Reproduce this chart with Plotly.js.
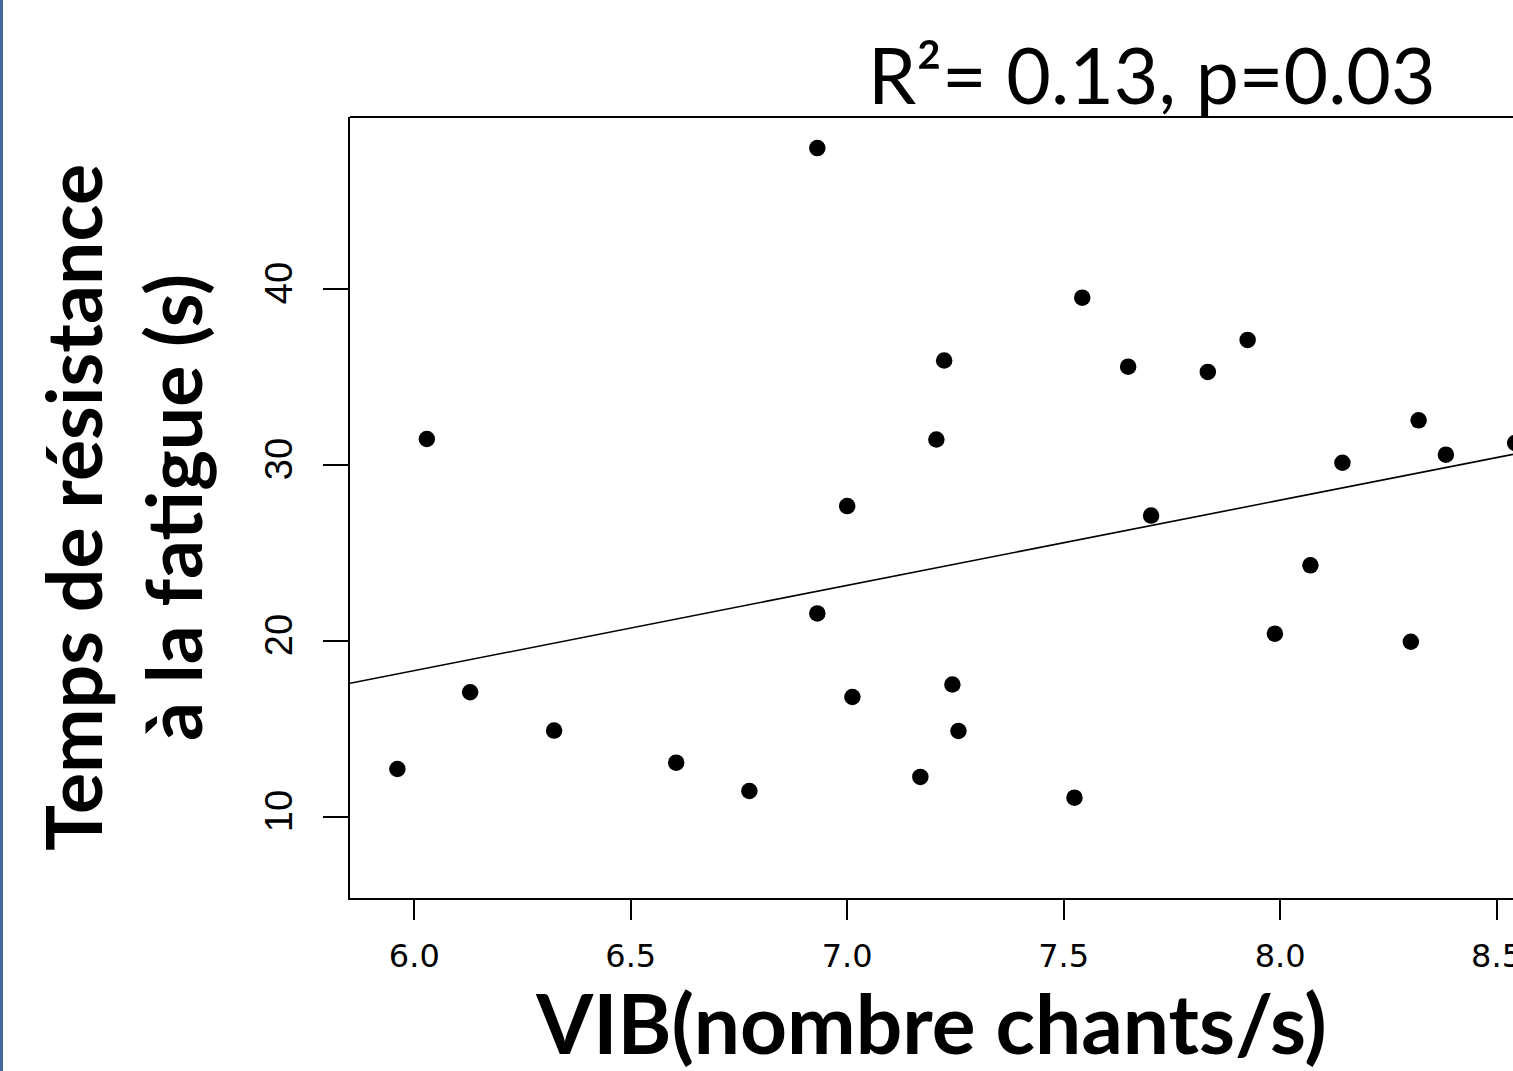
<!DOCTYPE html>
<html>
<head>
<meta charset="utf-8">
<script src="https://cdn.plot.ly/plotly-3.0.1.min.js"></script>
<style>
html,body{margin:0;padding:0;background:#ffffff;overflow:hidden;}
#chart{width:1513px;height:1071px;}
</style>
</head>
<body>
<div id="chart"></div>
<script>
// ---- data ----
const vib = [5.961, 6.029, 6.129, 6.323, 6.605, 6.774, 6.931, 6.931, 7.000, 7.012,
             7.169, 7.206, 7.224, 7.243, 7.257, 7.525, 7.543, 7.649, 7.702, 7.833,
             7.925, 7.988, 8.070, 8.144, 8.302, 8.320, 8.383, 8.543];
const fatigue = [12.71, 31.46, 17.07, 14.89, 13.07, 11.46, 47.99, 21.55, 27.65, 16.80,
                 12.26, 31.43, 35.92, 17.51, 14.87, 11.08, 39.49, 35.57, 27.11, 35.27,
                 37.09, 20.40, 24.28, 30.11, 19.94, 32.52, 30.57, 31.23];
const xTickVals = [6.0, 6.5, 7.0, 7.5, 8.0, 8.5];
const xTickText = ["6.0", "6.5", "7.0", "7.5", "8.0", "8.5"];
const yTickVals = [10, 20, 30, 40];
const yTickText = ["10", "20", "30", "40"];
const fitIntercept = -10.76;   // regression line
const fitSlope = 4.843;
const statsText = "R²= 0.13, p=0.03";
const xTitle = "<b>VIB(nombre chants/s)</b>";
const yTitle = "<b>Temps de résistance<br>à la fatigue (s)</b>";
const xRange = [5.8515, 8.538];
const yRange = [5.38, 49.755];

// ---- traces ----
const fitX = xRange.slice();
const fitY = fitX.map(v => fitIntercept + fitSlope * v);

const points = {
  type: 'scatter', mode: 'markers', x: vib, y: fatigue,
  marker: {color: '#000000', size: 16.5, line: {width: 0}},
  cliponaxis: true, hoverinfo: 'x+y'
};
const fit = {
  type: 'scatter', mode: 'lines', x: fitX, y: fitY,
  line: {color: '#000000', width: 1.6}, hoverinfo: 'skip'
};

const layout = {
  width: 1513, height: 1071,
  margin: {l: 350, r: 0, t: 117, b: 173, pad: 0},
  paper_bgcolor: '#ffffff', plot_bgcolor: '#ffffff',
  showlegend: false,
  xaxis: {
    range: xRange, tickmode: 'array', tickvals: xTickVals, ticktext: xTickText,
    ticks: 'outside', ticklen: 20, tickwidth: 2, tickcolor: '#000',
    showline: true, linewidth: 2, linecolor: '#000',
    showgrid: false, zeroline: false, automargin: false,
    ticklabeloverflow: 'allow',
    tickfont: {family: 'DejaVu Sans', size: 32, color: '#000'},
    ticklabelstandoff: 9,
    title: {text: xTitle, standoff: 14,
            font: {family: 'Lato', size: 82, color: '#000'}}
  },
  yaxis: {
    range: yRange, tickmode: 'array', tickvals: yTickVals, ticktext: yTickText,
    ticks: 'outside', ticklen: 25, tickwidth: 2, tickcolor: '#000',
    showline: true, linewidth: 2, linecolor: '#000',
    showgrid: false, zeroline: false, automargin: false,
    tickangle: -90,
    tickfont: {family: 'Liberation Sans, Arial, sans-serif', size: 38, color: '#000'},
    ticklabelstandoff: 16,
    title: {text: yTitle, standoff: 30,
            font: {family: 'Lato', size: 77, color: '#000'}}
  },
  annotations: [{
    text: statsText, xref: 'paper', yref: 'paper', x: 0.69, y: 1,
    xanchor: 'center', yanchor: 'bottom', showarrow: false,
    font: {family: 'Lato', size: 77, color: '#000'}, yshift: -5
  }],
  shapes: [
    {type: 'line', xref: 'paper', yref: 'paper', x0: 0, x1: 1, y0: 1, y1: 1,
     line: {color: '#000', width: 2}},
    {type: 'rect', xref: 'paper', yref: 'paper', x0: -350/1163, x1: -347/1163,
     y0: -173/781, y1: 1 + 117/781, fillcolor: '#46689a', line: {width: 0}}
  ]
};

Plotly.newPlot('chart', [fit, points], layout, {displayModeBar: false, staticPlot: true});
</script>
</body>
</html>
